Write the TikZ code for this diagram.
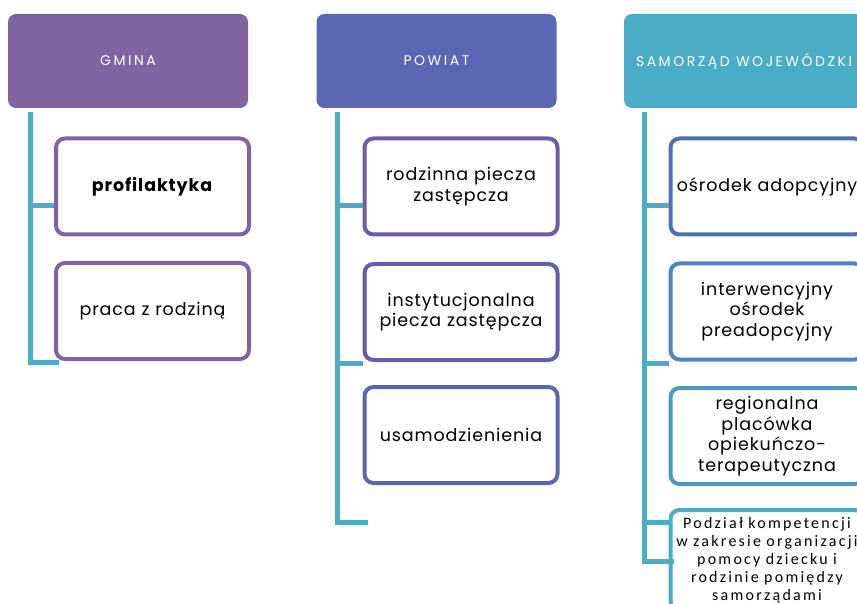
\documentclass[tikz,border=0pt]{standalone}
\usepackage{fontspec}
\setmainfont{Poppins}
\newfontfamily\calibri{Carlito}[LetterSpace=14]
\usetikzlibrary{positioning}

\definecolor{gmcol}{HTML}{8064A2}
\definecolor{pwcol}{HTML}{5B67B2}
\definecolor{smcol}{HTML}{4BACC6}
\definecolor{pwa}{HTML}{6E5BA9}
\definecolor{pwb}{HTML}{625DAE}
\definecolor{pwc}{HTML}{5A67B1}
\definecolor{sma}{HTML}{4F6FB9}
\definecolor{smb}{HTML}{4F84BE}
\definecolor{smc}{HTML}{4D98C3}

\tikzstyle{head}=[rectangle, rounded corners=8pt, minimum width=240pt, minimum height=94pt, inner sep=0pt, text=white, font=\fontsize{14}{16}\selectfont\addfontfeature{LetterSpace=18}]
\tikzstyle{item}=[rectangle, rounded corners=9pt, draw, line width=4pt, fill=white, minimum width=193pt, minimum height=96pt, inner sep=3pt, text width=187pt, align=center, font=\fontsize{17.5}{20.5}\selectfont\addfontfeature{LetterSpace=5}]
\tikzstyle{conn}=[draw, line width=5pt, smcol]

\begin{document}
\begin{tikzpicture}[x=1pt, y=-1pt]
    \useasboundingbox (0,0) rectangle (857,604);
    \clip (0,0) rectangle (857,604);
    \foreach \pos/\name/\col/\txt in {{(128,61)/gmina/gmcol/GMINA}, {(436.5,61)/powiat/pwcol/POWIAT}, {(744,61)/samorzad/smcol/SAMORZĄD WOJEWÓDZKI}}
        \node[head, fill=\col] (\name) at \pos {\txt};
    \foreach \pos/\name/\col/\txt in {{(152.5,186.5)/gm1/gmcol/\textbf{profilaktyka}}, {(152.5,311)/gm2/gmcol/praca z rodziną},
            {(461,186.5)/pw1/pwa/rodzinna piecza\\zastępcza}, {(461,312)/pw2/pwb/instytucjonalna\\piecza zastępcza}, {(461,435)/pw3/pwc/usamodzienienia},
            {(767,186.5)/sm1/sma/ośrodek adopcyjny}, {(767,311.5)/sm2/smb/interwencyjny\\ośrodek\\preadopcyjny}, {(767,436)/sm3/smc/regionalna\\placówka\\opiekuńczo-\\terapeutyczna}}
        \node[item, draw=\col] (\name) at \pos {\txt};
    \node[item, draw=smcol, minimum height=100pt, font=\calibri\fontsize{16}{18}\selectfont] (sm4) at (767,560) {Podział kompetencji\\w zakresie organizacji\\pomocy dziecku i\\rodzinie pomiędzy\\samorządami};
    % trunks
    \coordinate (gmt) at ([xshift=23pt, yshift=-4pt]gmina.south west);
    \coordinate (pwt) at ([xshift=21pt, yshift=-4pt]powiat.south west);
    \coordinate (smt) at ([xshift=20.5pt, yshift=-4pt]samorzad.south west);
    \foreach \trunk/\last/\dy in {gmt/gm2/-51.5, pwt/pw3/-87, smt/sm4/-1}
        \path[conn] (\trunk) |- ([xshift=5pt, yshift=\dy pt]\last.west);
    \foreach \trunk/\child/\dy in {gmt/gm1/-19.5, pwt/pw1/-19.5, pwt/pw2/-51, smt/sm1/-19.5, smt/sm2/-51.5, smt/sm4/38}
        \path[conn] ([yshift=\dy pt]\trunk |- \child.west) -- ([yshift=\dy pt]\child.west);
\end{tikzpicture}
\end{document}
